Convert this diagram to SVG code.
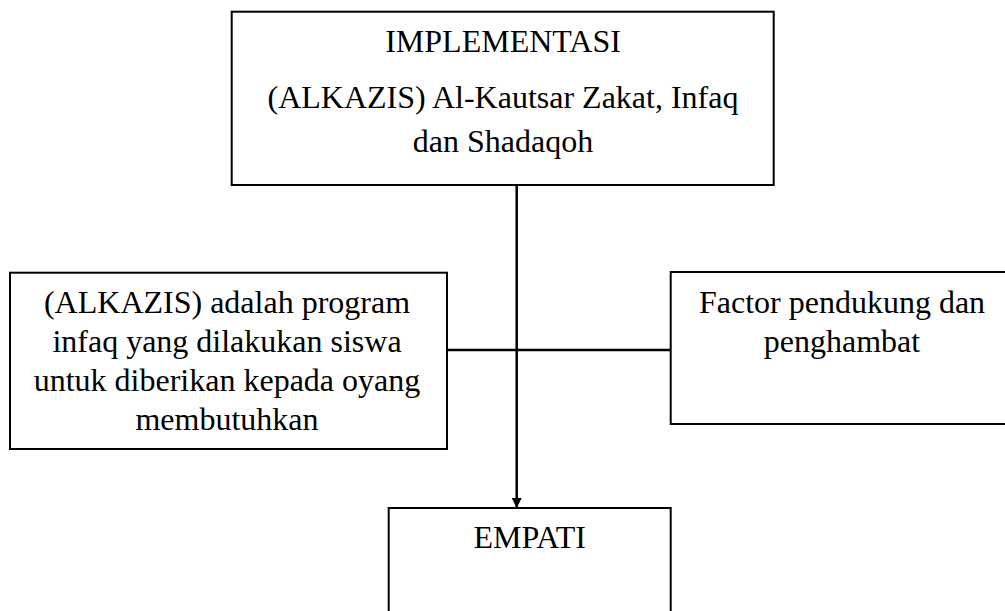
<svg xmlns="http://www.w3.org/2000/svg" width="1005" height="611" viewBox="0 0 1005 611">
<style>
.box{fill:#fff;stroke:#000;stroke-width:2}
.t{font-family:"Liberation Serif","Times New Roman",serif;font-size:32px;fill:#000;text-anchor:middle}
.c{stroke:#000;stroke-width:2.5;fill:none}
</style>
<defs>
<marker id="ah" markerWidth="10" markerHeight="10" refX="9" refY="5" orient="auto" markerUnits="userSpaceOnUse">
<path d="M0,0 L10,5 L0,10 Z" fill="#000"/>
</marker>
</defs>
<rect width="1005" height="611" fill="#fff"/>
<g id="connectors">
<line class="c" x1="516.7" y1="185" x2="516.7" y2="507" marker-end="url(#ah)"/>
<line class="c" x1="447" y1="350" x2="670.7" y2="350"/>
</g>
<g id="implementasi">
<rect class="box" x="231.7" y="11.7" width="542" height="173.3"/>
<text class="t" x="503" y="52">IMPLEMENTASI</text>
<text class="t" x="503" y="108">(ALKAZIS) Al-Kautsar Zakat, Infaq</text>
<text class="t" x="503" y="151.5">dan Shadaqoh</text>
</g>
<g id="alkazis">
<rect class="box" x="10" y="272.7" width="437" height="176.3"/>
<text class="t" x="227" y="313">(ALKAZIS) adalah program</text>
<text class="t" x="227" y="352">infaq yang dilakukan siswa</text>
<text class="t" x="227" y="391">untuk diberikan kepada oyang</text>
<text class="t" x="227" y="430">membutuhkan</text>
</g>
<g id="factor">
<rect class="box" x="670.7" y="272" width="343" height="152"/>
<text class="t" x="842" y="313">Factor pendukung dan</text>
<text class="t" x="842" y="352">penghambat</text>
</g>
<g id="empati">
<rect class="box" x="388.7" y="508" width="282" height="120"/>
<text class="t" x="529.7" y="548">EMPATI</text>
</g>
</svg>
